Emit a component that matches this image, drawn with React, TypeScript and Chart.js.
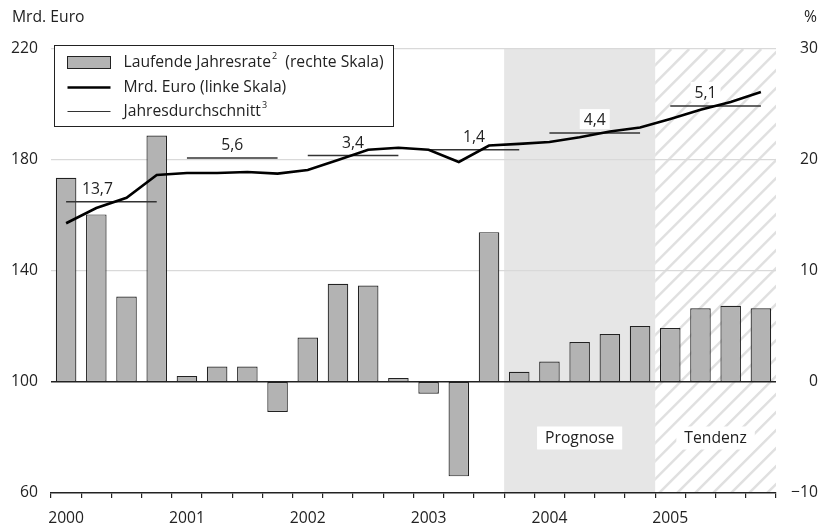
import React, { useEffect, useRef } from 'react';
import { Chart, registerables } from 'chart.js';

Chart.register(...registerables);

const years = ['2000', '2001', '2002', '2003', '2004', '2005'];
const quarters = ['Q1', 'Q2', 'Q3', 'Q4'];
const categories = years.flatMap((y) => quarters.map((q) => `${y} ${q}`));

// Laufende Jahresrate (%; rechte Skala)
const growthRate = [18.4, 15.1, 7.7, 22.2, 0.55, 1.4, 1.4, -2.7, 4.0, 8.85, 8.7, 0.36, -1.05, -8.5, 13.5, 0.93, 1.84, 3.6, 4.33, 5.05, 4.87, 6.65, 6.86, 6.65];
// Mrd. Euro (linke Skala)
const levelBn = [157.2, 162.7, 166.4, 174.6, 175.3, 175.3, 175.7, 175.1, 176.4, 180.0, 183.7, 184.4, 183.7, 179.3, 185.2, 185.8, 186.5, 188.2, 190.3, 191.7, 194.8, 198.1, 200.9, 204.5];
// Jahresdurchschnitt (level, left scale) and growth label
const annualAvgLevel = [165.0, 180.7, 181.6, 183.7, 189.7, 199.5];
const annualAvgLabel = ['13,7', '5,6', '3,4', '1,4', '4,4', '5,1'];
const annualLabelShift = [-14, 0, 0, 0, 0, -10];

const leftMin = 60, leftMax = 220, leftStep = 40;
const rightMin = -10, rightMax = 30, rightStep = 10;

const prognoseStart = '2003 Q4';
const tendenzStart = '2005 Q1';
const prognoseText = 'Prognose';
const tendenzText = 'Tendenz';
const regionLabelValue = -5;

const FONT = '"Open Sans", sans-serif';
const FS = 15.7;
const TXT = '#222';

const decor = {
  id: 'decor',
  beforeDraw(chart: any) {
    const { ctx, chartArea: ca, scales } = chart;
    const x = scales.x;
    const half = (x.getPixelForValue(1) - x.getPixelForValue(0)) / 2;
    const pStart = x.getPixelForValue(categories.indexOf(prognoseStart)) - half;
    const tStart = x.getPixelForValue(categories.indexOf(tendenzStart)) - half;
    ctx.save();
    ctx.fillStyle = '#e6e6e6';
    ctx.fillRect(pStart, ca.top, tStart - pStart, ca.bottom - ca.top);
    ctx.beginPath();
    ctx.rect(tStart, ca.top, ca.right - tStart, ca.bottom - ca.top);
    ctx.clip();
    ctx.strokeStyle = '#e0e0e0';
    ctx.lineWidth = 2.5;
    const h = ca.bottom - ca.top;
    ctx.beginPath();
    for (let s = tStart - h - 20; s < ca.right + 20; s += 18) {
      ctx.moveTo(s, ca.bottom);
      ctx.lineTo(s + h, ca.top);
    }
    ctx.stroke();
    ctx.restore();
  },
  beforeDatasetsDraw(chart: any) {
    const { ctx, scales } = chart;
    const { x, y, y1 } = scales;
    const half = (x.getPixelForValue(1) - x.getPixelForValue(0)) / 2;
    ctx.save();
    ctx.font = `${FS}px ${FONT}`;
    ctx.textAlign = 'center';
    ctx.textBaseline = 'alphabetic';
    annualAvgLevel.forEach((v, i) => {
      const x0 = x.getPixelForValue(i * 4);
      const x1 = x.getPixelForValue(i * 4 + 3);
      const cx = (x0 + x1) / 2 + annualLabelShift[i];
      const py = y.getPixelForValue(v);
      const w = ctx.measureText(annualAvgLabel[i]).width;
      ctx.fillStyle = '#fff';
      ctx.fillRect(cx - w / 2 - 4, py - 24, w + 8, 20);
      ctx.fillStyle = TXT;
      ctx.fillText(annualAvgLabel[i], cx, py - 8);
    });
    // region labels
    const pStart = x.getPixelForValue(categories.indexOf(prognoseStart)) - half;
    const tStart = x.getPixelForValue(categories.indexOf(tendenzStart)) - half;
    const right = chart.chartArea.right;
    const ly = y1.getPixelForValue(regionLabelValue);
    ctx.textBaseline = 'middle';
    [[prognoseText, (pStart + tStart) / 2], [tendenzText, (tStart + right) / 2]].forEach(([t, cx]: any) => {
      const w = ctx.measureText(t).width;
      ctx.fillStyle = '#fff';
      ctx.fillRect(cx - w / 2 - 8, ly - 11, w + 16, 23);
      ctx.fillStyle = TXT;
      ctx.fillText(t, cx, ly + 1);
    });
    ctx.restore();
  },
  afterDraw(chart: any) {
    const { ctx, chartArea: ca } = chart;
    ctx.save();
    ctx.font = `${FS}px ${FONT}`;
    ctx.fillStyle = TXT;
    ctx.textBaseline = 'middle';
    ctx.textAlign = 'left';
    ctx.fillText('Mrd. Euro', 12, 18);
    ctx.textAlign = 'right';
    ctx.fillText('%', 817, 18);

    // legend
    const bx = Math.round(ca.left) + 3.5;
    const by = Math.round(ca.top) - 3.5;
    const bw = 339, bh = 81;
    ctx.fillStyle = '#fff';
    ctx.fillRect(bx, by, bw, bh);
    ctx.strokeStyle = '#222';
    ctx.lineWidth = 1;
    ctx.strokeRect(bx, by, bw, bh);
    const sx = bx + 13, sw = 43, tx = bx + 69;
    const rows = [by + 17, by + 42, by + 66];
    // bar swatch
    ctx.fillStyle = '#b3b3b3';
    ctx.fillRect(sx, rows[0] - 6, sw, 12);
    ctx.strokeStyle = '#222';
    ctx.strokeRect(sx, rows[0] - 6, sw, 12);
    // thick line
    ctx.beginPath();
    ctx.lineWidth = 2.5;
    ctx.strokeStyle = '#000';
    ctx.moveTo(sx, rows[1]);
    ctx.lineTo(sx + sw, rows[1]);
    ctx.stroke();
    // thin line
    ctx.beginPath();
    ctx.lineWidth = 1.2;
    ctx.strokeStyle = '#333';
    ctx.moveTo(sx, rows[2]);
    ctx.lineTo(sx + sw, rows[2]);
    ctx.stroke();

    ctx.fillStyle = TXT;
    ctx.textAlign = 'left';
    ctx.textBaseline = 'middle';
    const drawWithSup = (main: string, sup: string, rest: string, yy: number) => {
      ctx.font = `${FS}px ${FONT}`;
      ctx.fillText(main, tx, yy);
      let cx = tx + ctx.measureText(main).width + 1;
      ctx.font = `9px ${FONT}`;
      ctx.fillText(sup, cx, yy - 6);
      cx += ctx.measureText(sup).width;
      if (rest) {
        ctx.font = `${FS}px ${FONT}`;
        ctx.fillText(rest, cx, yy);
      }
    };
    drawWithSup('Laufende Jahresrate', '2', '  (rechte Skala)', rows[0]);
    ctx.font = `${FS}px ${FONT}`;
    ctx.fillText('Mrd. Euro (linke Skala)', tx, rows[1]);
    drawWithSup('Jahresdurchschnitt', '3', '', rows[2]);
    ctx.restore();
  },
};

export default function App() {
  const ref = useRef<HTMLCanvasElement>(null);
  useEffect(() => {
    if (!ref.current) return;
    Chart.defaults.font.family = FONT;
    Chart.defaults.font.size = FS;
    Chart.defaults.color = TXT;

    const avgDatasets = annualAvgLevel.map((v, i) => ({
      type: 'line' as const,
      label: `avg ${years[i]}`,
      data: categories.map((_, j) => (j === i * 4 || j === i * 4 + 3 ? v : null)),
      yAxisID: 'y',
      borderColor: '#333',
      borderWidth: 1.5,
      pointRadius: 0,
      spanGaps: true,
      fill: false,
      order: 1,
    }));

    const chart = new Chart(ref.current, {
      type: 'bar',
      data: {
        labels: categories,
        datasets: [
          {
            type: 'line',
            label: 'Mrd. Euro (linke Skala)',
            data: levelBn,
            yAxisID: 'y',
            borderColor: '#000',
            borderWidth: 2.6,
            pointRadius: 0,
            tension: 0,
            fill: false,
            order: 0,
          } as any,
          ...avgDatasets,
          {
            type: 'bar',
            label: 'Laufende Jahresrate (rechte Skala)',
            data: growthRate,
            yAxisID: 'y1',
            backgroundColor: '#b3b3b3',
            borderColor: '#222',
            borderWidth: 1.2,
            borderSkipped: false,
            barPercentage: 0.68,
            categoryPercentage: 1,
            order: 2,
          } as any,
        ],
      },
      options: {
        responsive: false,
        animation: false,
        devicePixelRatio: 1,
        layout: { padding: { top: 49, right: 4, left: 0, bottom: 0 } },
        plugins: { legend: { display: false }, tooltip: { enabled: false } },
        scales: {
          x: {
            offset: true,
            grid: { offset: true, drawOnChartArea: false, drawTicks: true, tickLength: 5, color: '#222', lineWidth: 1.2 },
            border: { display: true, color: '#222', width: 1.5 },
            ticks: {
              autoSkip: false,
              maxRotation: 0,
              padding: 11,
              font: { size: FS },
              callback: (_v: any, i: number) => (i % 4 === 0 ? categories[i].slice(0, 4) : ''),
            },
            afterFit: (s: any) => { s.height = 33; },
          },
          y: {
            position: 'left',
            min: leftMin,
            max: leftMax,
            ticks: { stepSize: leftStep, padding: 13, font: { size: FS } },
            grid: {
              drawTicks: false,
              color: (c: any) => (c.tick && c.tick.value === 100 ? '#222' : c.tick && c.tick.value === leftMin ? 'rgba(0,0,0,0)' : '#d9d9d9'),
              lineWidth: (c: any) => (c.tick && c.tick.value === 100 ? 1.6 : 1.2),
            },
            border: { display: false },
            afterFit: (s: any) => { s.width = 51; },
          },
          y1: {
            position: 'right',
            min: rightMin,
            max: rightMax,
            ticks: {
              stepSize: rightStep,
              crossAlign: 'far',
              padding: 10,
              font: { size: FS },
              callback: (v: any) => (v < 0 ? '\u2212' + Math.abs(v) : String(v)),
            },
            grid: { display: false, drawTicks: false },
            border: { display: false },
            afterFit: (s: any) => { s.width = 42; },
          },
        },
      },
      plugins: [decor],
    });
    return () => chart.destroy();
  }, []);

  return (
    <div style={{ position: 'absolute', left: 0, top: 0, width: 822, height: 526, background: '#fff' }}>
      <canvas ref={ref} width={822} height={526} style={{ display: 'block' }} />
    </div>
  );
}
